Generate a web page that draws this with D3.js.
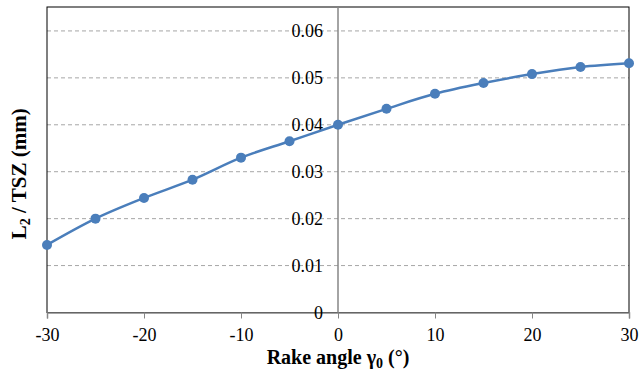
<!DOCTYPE html>
<html>
<head>
<meta charset="utf-8">
<script src="https://cdn.jsdelivr.net/npm/d3@7"></script>
<style>
  body { margin: 0; background: #fff; }
  svg text { font-family: "Liberation Serif", "Times New Roman", Times, serif !important; }
</style>
</head>
<body>
<div id="chart"></div>
<script>
// rake angle (deg) and L2/TSZ (mm)
const angles = [-30, -25, -20, -15, -10, -5, 0, 5, 10, 15, 20, 25, 30];
const ratio = [0.0144, 0.0200, 0.0244, 0.0283, 0.0330, 0.0365, 0.0400, 0.0434, 0.0466, 0.0489, 0.0508, 0.0523, 0.0531];
const xTicks = [-30, -20, -10, 0, 10, 20, 30];
const yTicks = [0, 0.01, 0.02, 0.03, 0.04, 0.05, 0.06];

const width = 640, height = 375;
const margin = {top: 7, right: 11, bottom: 62.5, left: 47};

const svg = d3.select("#chart")
  .append("svg")
    .attr("width", width)
    .attr("height", height);

const x = d3.scaleLinear()
  .domain([-30, 30])
  .range([margin.left, width - margin.right]);

const y = d3.scaleLinear()
  .domain([0, 0.0651])
  .range([height - margin.bottom, margin.top]);

// dashed gridlines
svg.append("g")
  .selectAll("line")
  .data(yTicks.filter(d => d > 0))
  .join("line")
    .attr("x1", x(-30)).attr("x2", x(30))
    .attr("y1", d => y(d)).attr("y2", d => y(d))
    .style("stroke", "#a6a6a6")
    .style("stroke-dasharray", "4,3")
    .style("stroke-width", 1);

// plot area border
svg.append("rect")
  .attr("x", x(-30))
  .attr("y", margin.top)
  .attr("width", x(30) - x(-30))
  .attr("height", y(0) - margin.top)
  .style("fill", "none")
  .style("stroke", "#000")
  .style("stroke-width", 1);

// x axis (at y = 0)
const xAxis = d3.axisBottom(x)
  .tickValues(xTicks)
  .tickSize(6)
  .tickPadding(10)
  .tickFormat(d => String(d));

const gx = svg.append("g")
  .attr("transform", "translate(0," + y(0) + ")")
  .call(xAxis)
  .attr("font-size", 18);
gx.select(".domain").style("stroke", "#868686").style("stroke-width", 1.5);
gx.selectAll(".tick line").style("stroke", "#868686");
gx.selectAll(".tick text").style("fill", "#000");

// y axis (at x = 0)
const yAxis = d3.axisLeft(y)
  .tickValues(yTicks)
  .tickSize(0)
  .tickPadding(15)
  .tickFormat(d => d === 0 ? "0" : d3.format(".2f")(d));

const gy = svg.append("g")
  .attr("transform", "translate(" + x(0) + ",0)")
  .call(yAxis)
  .attr("font-size", 18);
gy.select(".domain")
  .attr("d", "M0," + margin.top + "V" + y(0))
  .style("stroke", "#868686").style("stroke-width", 1.5);
gy.selectAll(".tick text").style("fill", "#000");

// series line
const pts = angles.map((a, i) => [a, ratio[i]]);

svg.append("path")
  .datum(pts)
  .attr("d", d3.line()
    .x(d => x(d[0]))
    .y(d => y(d[1]))
    .curve(d3.curveCatmullRom.alpha(0.5)))
  .style("fill", "none")
  .style("stroke", "#4a7ebb")
  .style("stroke-width", 2.5);

svg.append("g")
  .selectAll("circle")
  .data(pts)
  .join("circle")
    .attr("cx", d => x(d[0]))
    .attr("cy", d => y(d[1]))
    .attr("r", 5)
    .style("fill", "#4a7ebb");

// axis titles
const xt = svg.append("text")
  .attr("x", x(0))
  .attr("y", 364)
  .attr("text-anchor", "middle")
  .style("font-size", "20px")
  .style("font-weight", "bold");
xt.append("tspan").text("Rake angle γ");
xt.append("tspan").attr("font-size", "14px").attr("dy", 4).text("0");
xt.append("tspan").attr("dy", -4).text(" (°)");

const yt = svg.append("text")
  .attr("transform", "translate(26," + ((margin.top + y(0)) / 2 + 14) + ") rotate(-90)")
  .attr("text-anchor", "middle")
  .style("font-size", "21px")
  .style("font-weight", "bold");
yt.append("tspan").text("L");
yt.append("tspan").attr("font-size", "14px").attr("dy", 4).text("2");
yt.append("tspan").attr("dy", -4).text(" / TSZ (mm)");
</script>
</body>
</html>
